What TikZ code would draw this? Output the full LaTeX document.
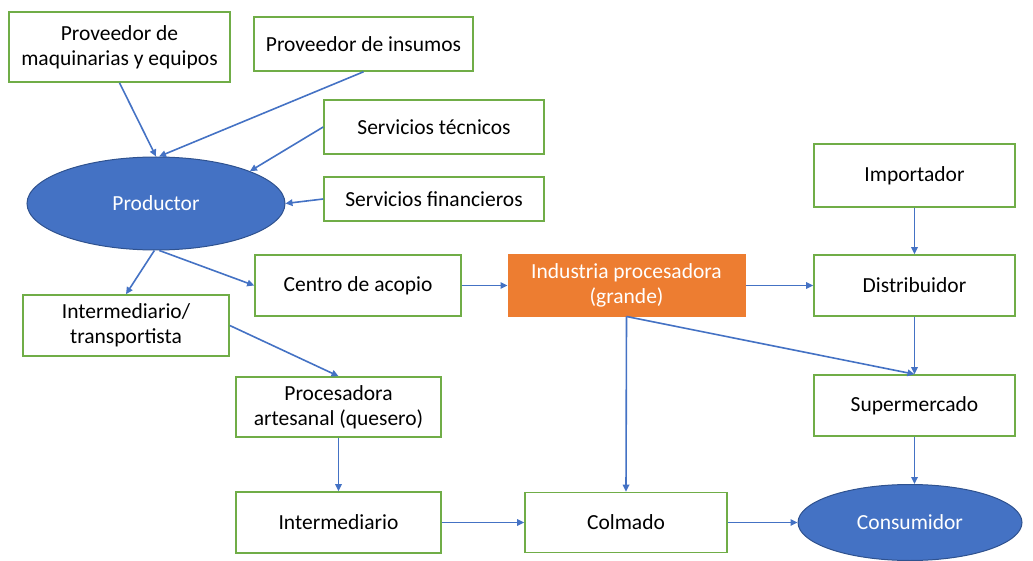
\documentclass[tikz,border=0pt]{standalone}
\usepackage{fontspec}
\setmainfont{Carlito}
\usetikzlibrary{arrows.meta,shapes.geometric}
\definecolor{gbord}{HTML}{70AD47}
\definecolor{oblue}{HTML}{4472C4}
\definecolor{dblue}{HTML}{2F528F}
\definecolor{oorange}{HTML}{ED7D31}
\tikzset{
  every node/.style={font=\fontsize{21.5}{25}\selectfont, inner sep=0pt, align=center},
  gbox/.style={draw=gbord, line width=1.6pt, fill=white, text=black},
  obox/.style={draw=oorange, line width=1pt, fill=oorange, text=white},
  bell/.style={ellipse, draw=dblue, line width=1pt, fill=oblue, text=white},
  conn/.style={draw=oblue, line width=1.6pt, -{Triangle[length=7pt,width=6.5pt]}},
}
\begin{document}
\begin{tikzpicture}[x=1pt,y=-1pt]
\useasboundingbox (0,0) rectangle (1033,561);
\node[gbox, minimum width=221, minimum height=70] (maq) at (119.5,47) {Proveedor de\\maquinarias y equipos};
\node[gbox, minimum width=219, minimum height=54] (ins) at (363.5,44) {Proveedor de insumos};
\node[gbox, minimum width=220, minimum height=54] (tec) at (434,127) {Servicios técnicos};
\node[gbox, minimum width=220, minimum height=44] (fin) at (434,199) {Servicios financieros};
\node[bell, minimum width=258, minimum height=93] (prod) at (156,203.5) {Productor};
\node[gbox, minimum width=206, minimum height=61] (ca) at (358,285.5) {Centro de acopio};
\node[gbox, minimum width=206, minimum height=61] (it) at (126,325.5) {Intermediario/\\transportista};
\node[gbox, minimum width=205, minimum height=60] (pa) at (338.5,407) {Procesadora\\artesanal (quesero)};
\node[gbox, minimum width=205, minimum height=61] (im) at (338.5,522.5) {Intermediario};
\node[obox, minimum width=237, minimum height=61] (ind) at (626.5,285.5) {Industria procesadora\\(grande)};
\node[gbox, minimum width=201, minimum height=63] (imp) at (914.5,175.5) {Importador};
\node[gbox, minimum width=201, minimum height=61] (dis) at (914.5,285.5) {Distribuidor};
\node[gbox, minimum width=201, minimum height=61] (sup) at (914.5,405.5) {Supermercado};
\node[gbox, minimum width=202, minimum height=60] (col) at (626,522.5) {Colmado};
\node[bell, minimum width=224, minimum height=76] (con) at (910,522.5) {Consumidor};

\draw[conn] (maq.south) -- (prod.north);
\draw[conn] (ins.south) -- ([xshift=3pt]prod.north);
\draw[conn] (tec.west) -- (prod.19);
\draw[conn] (fin.west) -- (prod.east);
\draw[conn] (prod.-92) -- (it.north);
\draw[conn] (prod.-86) -- (ca.west);
\draw[conn] (it.east) -- (pa.north);
\draw[conn] (pa.south) -- (im.north);
\draw[conn] (im.east) -- (col.west);
\draw[conn] (ca.east) -- (ind.west);
\draw[conn] (ind.east) -- (dis.west);
\draw[conn] (imp.south) -- (dis.north);
\draw[conn] (dis.south) -- (sup.north);
\draw[conn] (ind.south) -- (sup.north);
\draw[conn] (ind.south) -- (col.north);
\draw[conn] (sup.south) -- (sup.south |- con.north);
\draw[conn] (col.east) -- (con.west);
\end{tikzpicture}
\end{document}
